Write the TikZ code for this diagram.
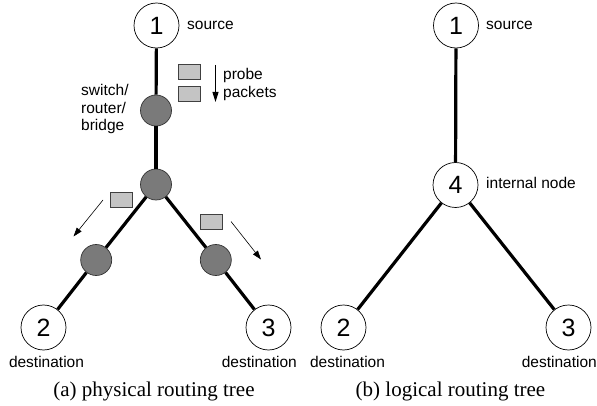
\documentclass[tikz,border=0pt]{standalone}
\usepackage{fontspec}
\setmainfont{Liberation Sans}
\newfontfamily\capfont{Liberation Serif}
\usetikzlibrary{arrows.meta}
\definecolor{routergray}{RGB}{122,122,122}
\definecolor{packetgray}{RGB}{196,196,196}
\tikzset{
  hostnode/.style={circle, draw=black, line width=0.7pt, fill=white, minimum size=45pt, inner sep=0pt, font=\fontsize{25}{25}\selectfont},
  routernode/.style={circle, draw=black!80, line width=0.7pt, fill=routergray, minimum size=31pt, inner sep=0pt},
  packet/.style={rectangle, draw=black!75, line width=0.7pt, fill=packetgray, minimum width=22pt, minimum height=15pt, inner sep=0pt},
  link/.style={line width=3.2pt, black},
  lbl/.style={font=\fontsize{15.5}{17.5}\selectfont, inner sep=0pt},
  caption/.style={font=\capfont\fontsize{21}{21}\selectfont, inner sep=0pt},
  flow/.style={line width=0.6pt, -{Triangle[length=9pt,width=6pt]}},
  probeflow/.style={line width=1pt, -{Triangle[length=10pt,width=6pt]}}
}
\begin{document}
\begin{tikzpicture}[x=1pt,y=-1pt]
\useasboundingbox (0,0) rectangle (597,406);
% ---------------- physical routing tree ----------------
\node[hostnode] (a1) at (156.5,25.5) {1};
\node[routernode] (r1) at (156,110.5) {};
\node[routernode] (r2) at (156,184.5) {};
\node[routernode] (rl) at (96.2,260) {};
\node[routernode] (rr) at (215.8,260) {};
\node[hostnode] (a2) at (43.5,327.5) {2};
\node[hostnode] (a3) at (268.5,327.5) {3};
\draw[link] (a1) -- (r1);
\draw[link] (r1) -- (r2);
\draw[link] (r2) -- (rl);
\draw[link] (rl) -- (a2);
\draw[link] (r2) -- (rr);
\draw[link] (rr) -- (a3);
\node[lbl, anchor=west] (s1) at (187,25) {source};
\node[lbl, anchor=west, align=left] (sw) at (81,109) {switch/\\router/\\bridge};
\node[packet] (p1) at (189,72) {};
\node[packet] (p2) at (189,94.2) {};
\coordinate (pa1) at (215.5,65);
\coordinate (pa2) at (215.5,102);
\draw[probeflow] (pa1) -- (pa2);
\node[lbl, anchor=west, align=left] (pr) at (223,84.5) {probe\\packets};
\node[packet] (p3) at (121.5,199.5) {};
\coordinate (la1) at (103,200);
\coordinate (la2) at (73.5,236.5);
\draw[flow] (la1) -- (la2);
\node[packet] (p4) at (211.5,222) {};
\coordinate (ra1) at (231,221.5);
\coordinate (ra2) at (261,259.5);
\draw[flow] (ra1) -- (ra2);
\node[lbl] (d1) at (46.5,362) {destination};
\node[lbl, anchor=east] (d2) at (297,362) {destination};
\node[caption] (ca) at (154,391) {(a) physical routing tree};
% ---------------- logical routing tree ----------------
\node[hostnode] (b1) at (456,25.5) {1};
\node[hostnode] (b4) at (455.5,185) {4};
\node[hostnode] (b2) at (343.5,327.5) {2};
\node[hostnode] (b3) at (568.5,327.5) {3};
\draw[link] (b1) -- (b4);
\draw[link] (b4) -- (b2);
\draw[link] (b4) -- (b3);
\node[lbl, anchor=west] (s2) at (486,25) {source};
\node[lbl, anchor=west] (in) at (486,183) {internal node};
\node[lbl] (d3) at (347.5,362) {destination};
\node[lbl, anchor=east] (d4) at (597,362) {destination};
\node[caption] (cb) at (450.5,391) {(b) logical routing tree};
\end{tikzpicture}
\end{document}
